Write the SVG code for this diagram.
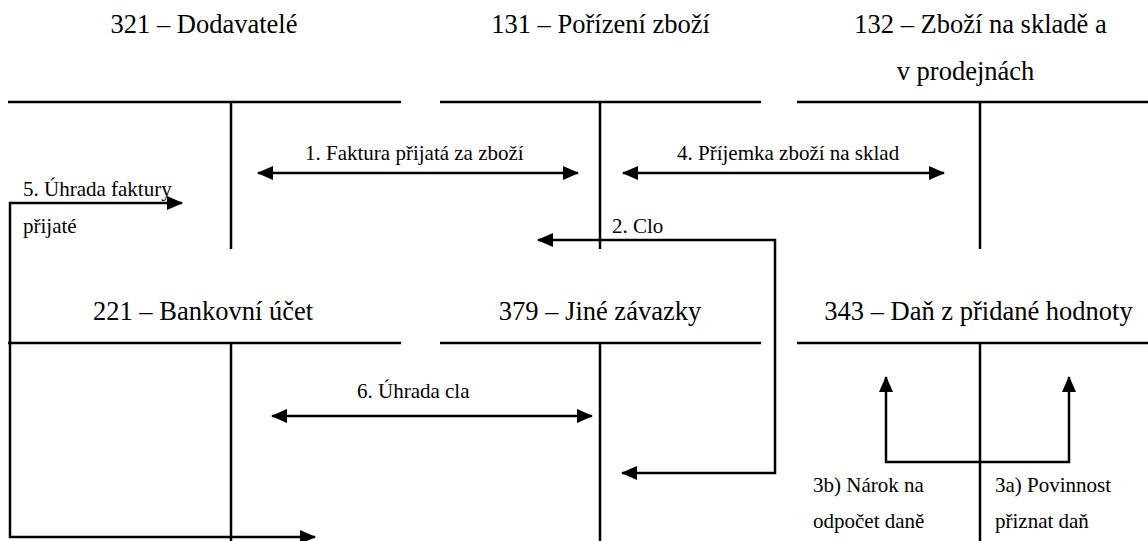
<svg xmlns="http://www.w3.org/2000/svg" width="1148" height="541" viewBox="0 0 1148 541">
<style>
text{font-family:"Liberation Serif","Times New Roman",serif;fill:#000}
.t{font-size:26.5px;text-anchor:middle}
.l{font-size:21px}
.ln{stroke:#000;stroke-width:2.5;fill:none}
.c{stroke:#000;stroke-width:2.5;fill:none;marker-start:url(#ah);marker-end:url(#ah)}
</style>
<defs>
<marker id="ah" viewBox="0 0 16 14" markerWidth="16" markerHeight="14" refX="15" refY="7" orient="auto-start-reverse" markerUnits="userSpaceOnUse">
<path d="M0,0 L16,7 L0,14 z" fill="#000"/>
</marker>
</defs>
<rect width="1148" height="541" fill="#fff"/>
<g id="acc321">
<text class="t" x="204" y="33">321 – Dodavatelé</text>
<path class="ln" d="M8,102 H401 M231,102 V249"/>
</g>
<g id="acc131">
<text class="t" x="600.5" y="33">131 – Pořízení zboží</text>
<path class="ln" d="M440,102 H761 M600,102 V249"/>
</g>
<g id="acc132">
<text class="t" x="980.5" y="33">132 – Zboží na skladě a</text>
<text class="t" x="965.5" y="80">v prodejnách</text>
<path class="ln" d="M797,102 H1148 M980,102 V249"/>
</g>
<g id="acc221">
<text class="t" x="203" y="320">221 – Bankovní účet</text>
<path class="ln" d="M8,343 H401 M231,343 V541"/>
</g>
<g id="acc379">
<text class="t" x="600" y="320">379 – Jiné závazky</text>
<path class="ln" d="M440,343 H761 M600,343 V541"/>
</g>
<g id="acc343">
<text class="t" x="978.5" y="320">343 – Daň z přidané hodnoty</text>
<path class="ln" d="M797,343 H1148 M980,343 V541"/>
</g>
<g id="connectors">
<path class="c" d="M258,173 H578"/>
<text class="l" x="305" y="160">1. Faktura přijatá za zboží</text>
<path class="c" d="M623,173 H944"/>
<text class="l" x="677" y="160">4. Příjemka zboží na sklad</text>
<path class="c" d="M538,240 H775 V473 H622"/>
<text class="l" x="612" y="233">2. Clo</text>
<path class="c" d="M182,203 H10 V537 H315"/>
<text class="l" x="23" y="196">5. Úhrada faktury</text>
<text class="l" x="23" y="233">přijaté</text>
<path class="c" d="M272,416 H592"/>
<text class="l" x="357" y="398">6. Úhrada cla</text>
<path class="c" d="M886,377 V462 H1069 V377"/>
<text class="l" x="813" y="492">3b) Nárok na</text>
<text class="l" x="813" y="528">odpočet daně</text>
<text class="l" x="995" y="492">3a) Povinnost</text>
<text class="l" x="995" y="528">přiznat daň</text>
</g>
</svg>
